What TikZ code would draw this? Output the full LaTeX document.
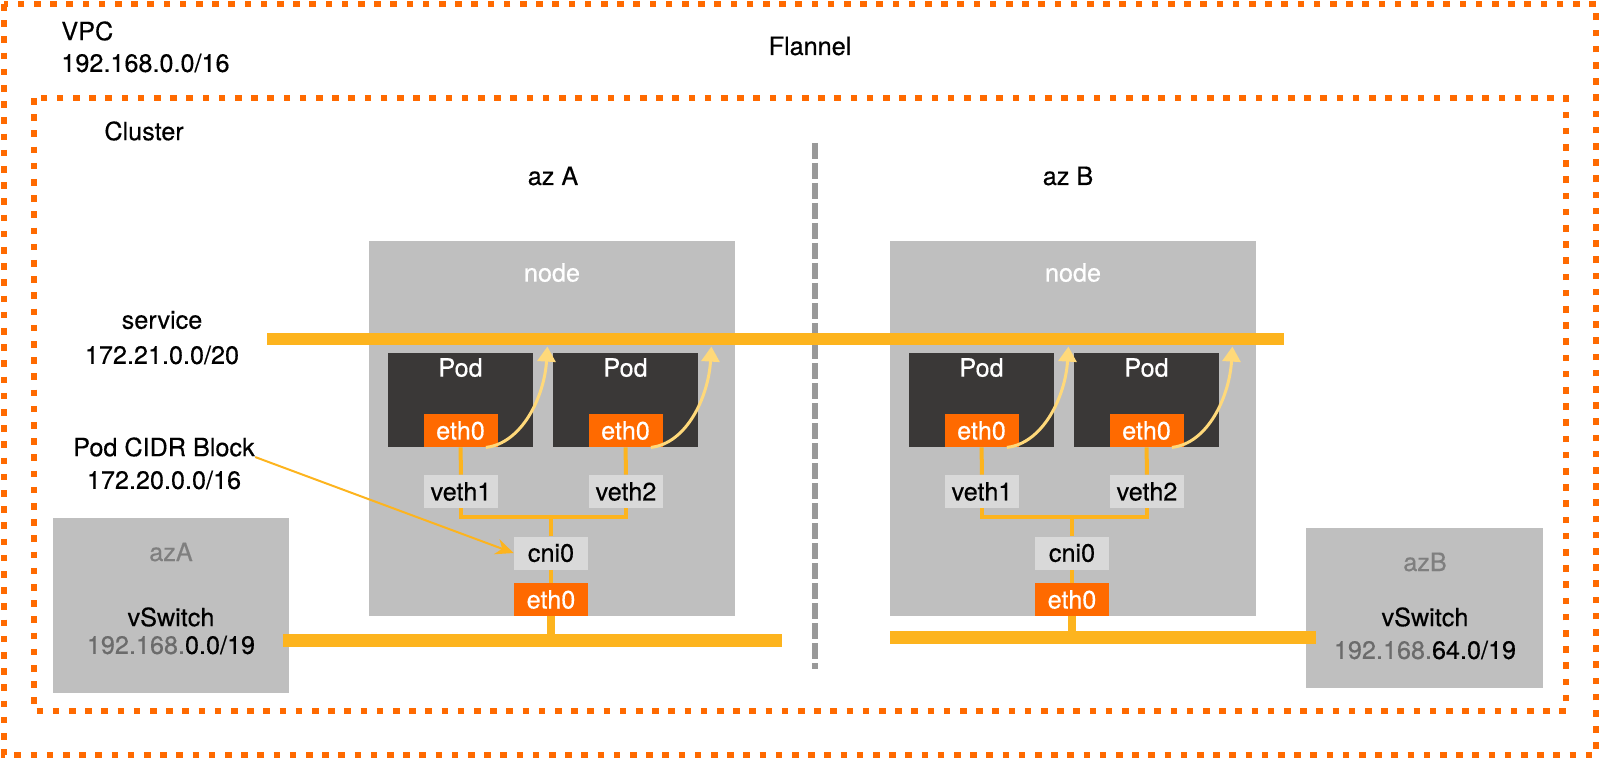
\documentclass[tikz,border=0pt]{standalone}
\usepackage{fontspec}
\setmainfont{TeX Gyre Heros}[FakeBold=0.4]
\usepackage{tikz}
\usetikzlibrary{positioning,calc,arrows.meta}
\definecolor{vpcorange}{HTML}{FF6A00}
\definecolor{busyellow}{HTML}{FDB41E}
\definecolor{flowyellow}{HTML}{FFD97A}
\definecolor{hostgrey}{HTML}{BFBFBF}
\definecolor{poddark}{HTML}{3A3837}
\definecolor{ifgrey}{HTML}{D9D9D9}
\definecolor{sepgrey}{HTML}{999999}
\definecolor{azgrey}{HTML}{7F7F7F}
\definecolor{ipgrey}{HTML}{6B6B6B}

\begin{document}
\begin{tikzpicture}[
  x=0.5pt,y=-0.5pt,
  font=\fontsize{12.6}{14}\selectfont,
  vpcframe/.style={vpcorange,line width=3.3pt,dash pattern=on 3.3pt off 4.8pt},
  clusterframe/.style={vpcorange,line width=2.8pt,dash pattern=on 3.3pt off 4.8pt},
  hostbox/.style={rectangle,fill=hostgrey,minimum width=183pt,minimum height=187.5pt,inner sep=0pt},
  podbox/.style={rectangle,fill=poddark,minimum width=72.5pt,minimum height=47pt,inner sep=0pt},
  ethbox/.style={rectangle,fill=vpcorange,text=white,minimum width=37pt,minimum height=16.5pt,inner sep=0pt},
  ifbox/.style={rectangle,fill=ifgrey,minimum width=37pt,minimum height=16.5pt,inner sep=0pt},
  swbox/.style={rectangle,fill=hostgrey,inner sep=0pt},
  wlabel/.style={text=white,inner sep=0pt},
  plainlabel/.style={inner sep=0pt},
  svcline/.style={busyellow,line width=6pt},
  lanline/.style={busyellow,line width=6.5pt},
  link/.style={busyellow,line width=2pt},
  uplink/.style={busyellow,line width=4pt},
  flowarr/.style={-{Triangle[width=9pt,length=7.5pt]},flowyellow,line width=1.5pt},
  cidrarr/.style={-{Stealth[width=8pt,length=9pt]},busyellow,line width=1pt},
  sepline/.style={sepgrey,line width=3pt,dash pattern=on 8pt off 2pt},
]
\useasboundingbox (0,0) rectangle (1600,759);

% VPC and cluster frames
\draw[vpcframe] (4,4) rectangle (1596,755);
\draw[clusterframe] (34,98) rectangle (1566,711);
\node[plainlabel,anchor=west] (vpc)     at (61,31)  {VPC};
\node[plainlabel,anchor=west] (vpcnet)  at (61,63)  {192.168.0.0/16};
\node[plainlabel]             (flannel) at (810,46) {Flannel};
\node[plainlabel,anchor=west] (cluster) at (104,131) {Cluster};
\node[plainlabel] (azAlbl) at (553,176)  {az A};
\node[plainlabel] (azBlbl) at (1068,176) {az B};

% zone separator
\coordinate (sepTop) at (815,143);
\coordinate (sepBot) at (815,669);
\draw[sepline] (sepTop) -- (sepBot);

% hosts
\node[hostbox] (hostA) at (552,428.5)  {};
\node[hostbox] (hostB) at (1073,428.5) {};
\node[wlabel] (hostAlbl) at ($(hostA.north)+(0,32)$) {node};
\node[wlabel] (hostBlbl) at ($(hostB.north)+(0,32)$) {node};

% service network
\coordinate (svcL) at (267,339);
\coordinate (svcR) at (1284,339);
\draw[svcline] (svcL) -- (svcR);
\node[plainlabel] (svcname) at (162,320) {service};
\node[plainlabel] (svcnet)  at (162,355) {172.21.0.0/20};

% az A pods
\node[podbox] (podA1) at (460.5,400) {};
\node[podbox] (podA2) at (625.5,400) {};
\node[wlabel] (podA1lbl) at ($(podA1.north)+(0,15)$) {Pod};
\node[wlabel] (podA2lbl) at ($(podA2.north)+(0,15)$) {Pod};
\node[ethbox,anchor=south] (ethA1) at (podA1.south) {eth0};
\node[ethbox,anchor=south] (ethA2) at (podA2.south) {eth0};
\node[ifbox] (vethA1) at (461,491.5) {veth1};
\node[ifbox] (vethA2) at (626,491.5) {veth2};
\node[ifbox] (cniA) at (551,553) {cni0};
\node[ethbox,anchor=south] (ethA) at (hostA.south -| cniA) {eth0};
\coordinate (brA) at ($(cniA.north)+(0,-19)$);
\draw[link] (ethA1) -- (vethA1);
\draw[link] (ethA2) -- (vethA2);
\draw[link] (vethA1.south) |- (brA) -| (vethA2.south);
\draw[link] (brA) -- (cniA);
\draw[link] (cniA) -- (ethA);

% az B pods
\node[podbox] (podB1) at (981.5,400)  {};
\node[podbox] (podB2) at (1146.5,400) {};
\node[wlabel] (podB1lbl) at ($(podB1.north)+(0,15)$) {Pod};
\node[wlabel] (podB2lbl) at ($(podB2.north)+(0,15)$) {Pod};
\node[ethbox,anchor=south] (ethB1) at (podB1.south) {eth0};
\node[ethbox,anchor=south] (ethB2) at (podB2.south) {eth0};
\node[ifbox] (vethB1) at (982,491.5)  {veth1};
\node[ifbox] (vethB2) at (1147,491.5) {veth2};
\node[ifbox] (cniB) at (1072,553) {cni0};
\node[ethbox,anchor=south] (ethB) at (hostB.south -| cniB) {eth0};
\coordinate (brB) at ($(cniB.north)+(0,-19)$);
\draw[link] (ethB1) -- (vethB1);
\draw[link] (ethB2) -- (vethB2);
\draw[link] (vethB1.south) |- (brB) -| (vethB2.south);
\draw[link] (brB) -- (cniB);
\draw[link] (cniB) -- (ethB);

% vSwitches
\node[swbox,minimum width=118pt,minimum height=87.5pt] (swA) at (171,605.5) {};
\node[plainlabel,text=azgrey] (swAzone) at (171,552) {azA};
\node[plainlabel] (swAname) at (171,617) {vSwitch};
\node[plainlabel] (swAnet)  at (171,645) {{\color{ipgrey}192.168.}0.0/19};
\node[swbox,minimum width=118.5pt,minimum height=80pt] (swB) at (1424.5,608) {};
\node[plainlabel,text=azgrey] (swBzone) at (1425,562) {azB};
\node[plainlabel] (swBname) at (1425,617) {vSwitch};
\node[plainlabel] (swBnet)  at (1425,650) {{\color{ipgrey}192.168.}64.0/19};

% vSwitch lanes
\coordinate (lanA) at (782,640);
\coordinate (lanB) at (890,637);
\draw[lanline,shorten <=-3pt] (swA.east |- lanA) -- (lanA);
\draw[lanline,shorten >=-5pt] (lanB) -- (swB.west |- lanB);
\draw[uplink] (ethA) -- (ethA |- lanA);
\draw[uplink] (ethB) -- (ethB |- lanB);

% pod traffic to service
\coordinate (svcA1) at ($(podA1.north east)+(14,-6)$);
\coordinate (svcA2) at ($(podA2.north east)+(13,-6)$);
\coordinate (svcB1) at ($(podB1.north east)+(14,-6)$);
\coordinate (svcB2) at ($(podB2.north east)+(13,-6)$);
\draw[flowarr] ($(ethA1.south east)+(-12,0)$) .. controls +(36,-4) and +(-3,50) .. (svcA1);
\draw[flowarr] ($(ethA2.south east)+(-12,0)$) .. controls +(36,-4) and +(-3,50) .. (svcA2);
\draw[flowarr] ($(ethB1.south east)+(-12,0)$) .. controls +(36,-4) and +(-3,50) .. (svcB1);
\draw[flowarr] ($(ethB2.south east)+(-12,0)$) .. controls +(36,-4) and +(-3,50) .. (svcB2);

% pod CIDR block
\node[plainlabel] (cidrname) at (164,447) {Pod CIDR Block};
\node[plainlabel] (cidrnet)  at (164,480) {172.20.0.0/16};
\draw[cidrarr] (cidrname.south east) -- (cniA.west);
\end{tikzpicture}
\end{document}
